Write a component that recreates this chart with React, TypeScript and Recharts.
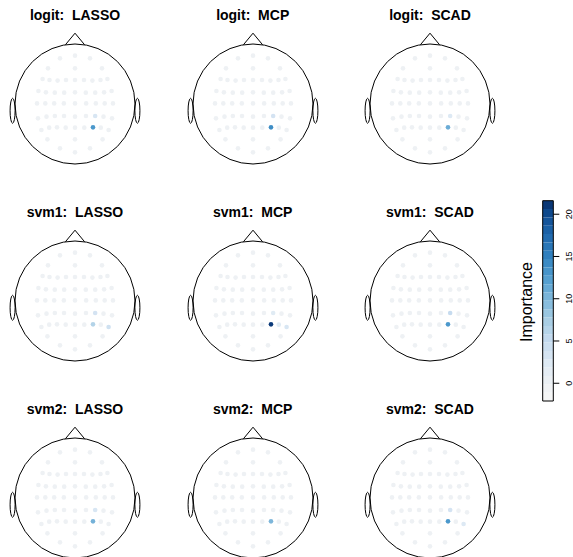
import React from 'react';
import { ScatterChart, Scatter, XAxis, YAxis, ReferenceArea, ComposedChart } from 'recharts';

// ---------- electrode layout (normalised head coordinates, y downward) ----------
const electrodeNames = [
  'Fpz', 'Fp1', 'Fp2',
  'AF7', 'AFz', 'AF8',
  'F7', 'F5', 'F3', 'F1', 'Fz', 'F2', 'F4', 'F6', 'F8',
  'FT7', 'FC5', 'FC3', 'FC1', 'FCz', 'FC2', 'FC4', 'FC6', 'FT8',
  'T7', 'C5', 'C3', 'C1', 'Cz', 'C2', 'C4', 'C6', 'T8',
  'TP7', 'CP5', 'CP3', 'CP1', 'CPz', 'CP2', 'CP4', 'CP6', 'TP8',
  'P7', 'P5', 'P3', 'P1', 'Pz', 'P2', 'P4', 'P6', 'P8',
  'PO7', 'POz', 'PO8',
  'O1', 'Oz', 'O2',
];
const electrodeX = [
  0, -0.25, 0.25,
  -0.45, 0, 0.45,
  -0.54, -0.425, -0.29, -0.15, 0, 0.15, 0.29, 0.425, 0.54,
  -0.61, -0.485, -0.337, -0.18, 0, 0.18, 0.337, 0.485, 0.61,
  -0.633, -0.495, -0.347, -0.186, 0, 0.186, 0.347, 0.495, 0.633,
  -0.617, -0.475, -0.336, -0.183, 0, 0.183, 0.336, 0.475, 0.617,
  -0.56, -0.43, -0.3, -0.155, 0, 0.155, 0.3, 0.43, 0.56,
  -0.46, 0, 0.46,
  -0.25, 0, 0.25,
];
const electrodeY = [
  -0.806, -0.761, -0.761,
  -0.594, -0.594, -0.594,
  -0.417, -0.4, -0.39, -0.4, -0.4, -0.4, -0.39, -0.4, -0.417,
  -0.217, -0.194, -0.189, -0.189, -0.194, -0.189, -0.189, -0.194, -0.217,
  -0.01, -0.01, -0.01, -0.01, -0.01, -0.01, -0.01, -0.01, -0.01,
  0.239, 0.211, 0.2, 0.2, 0.211, 0.2, 0.2, 0.211, 0.239,
  0.433, 0.394, 0.389, 0.394, 0.394, 0.394, 0.389, 0.394, 0.433,
  0.589, 0.589, 0.589,
  0.739, 0.806, 0.739,
];

// ---------- importance values (non-listed electrodes are 0) ----------
const models = ['logit', 'svm1', 'svm2'];
const penalties = ['LASSO', 'MCP', 'SCAD'];

const logitLASSO: Record<string, number> = { CP4: 3, P4: 13 };
const logitMCP: Record<string, number> = { CP4: 3.5, P4: 14 };
const logitSCAD: Record<string, number> = { CP4: 2.5, P4: 11 };
const svm1LASSO: Record<string, number> = { CP4: 3.5, P4: 6.5, P8: 4 };
const svm1MCP: Record<string, number> = { CP4: 2, P4: 21, P6: 2, P8: 3 };
const svm1SCAD: Record<string, number> = { CP4: 5, P4: 13 };
const svm2LASSO: Record<string, number> = { CP4: 3, P4: 10.5 };
const svm2MCP: Record<string, number> = { P4: 10 };
const svm2SCAD: Record<string, number> = { CP4: 3.5, P4: 13, P8: 2.5 };

const panelValues = [
  [logitLASSO, logitMCP, logitSCAD],
  [svm1LASSO, svm1MCP, svm1SCAD],
  [svm2LASSO, svm2MCP, svm2SCAD],
];

const colorbarTicks = [0, 5, 10, 15, 20];
const colorbarMin = -2.1;
const colorbarMax = 21.6;

// ---------- colour scale ----------
const colorStops: [number, string][] = [
  [-2.1, '#f7f7f7'],
  [0, '#eef1f4'],
  [2.5, '#dde9f4'],
  [5, '#c6dbef'],
  [7.5, '#a6cde3'],
  [10, '#7db6da'],
  [12.5, '#519dcf'],
  [15, '#3282bf'],
  [17.5, '#1f68ae'],
  [20, '#0f4b8f'],
  [21.6, '#08306b'],
];
function hexToRgb(h: string) {
  return [parseInt(h.slice(1, 3), 16), parseInt(h.slice(3, 5), 16), parseInt(h.slice(5, 7), 16)];
}
function colorFor(v: number): string {
  if (v <= colorStops[0][0]) return colorStops[0][1];
  for (let i = 1; i < colorStops.length; i++) {
    const [v1, c1] = colorStops[i];
    const [v0, c0] = colorStops[i - 1];
    if (v <= v1) {
      const t = (v - v0) / (v1 - v0);
      const a = hexToRgb(c0);
      const b = hexToRgb(c1);
      const m = a.map((x, k) => Math.round(x + (b[k] - x) * t));
      return `rgb(${m[0]},${m[1]},${m[2]})`;
    }
  }
  return colorStops[colorStops.length - 1][1];
}

const FONT = '"Liberation Sans", Arial, Helvetica, sans-serif';

// ---------- layout ----------
const PANEL_W = 180;
const PANEL_H = 197;
const colCenters = [75, 252.7, 430];
const HEAD_CY = 104;
const UNIT = 60;

function HeadShape(props: any) {
  const { x, y, width, height } = props;
  const w = Math.abs(width);
  const h = Math.abs(height);
  const left = Math.min(x, x + width);
  const top = Math.min(y, y + height);
  const cx = left + w / 2;
  const cy = top + h / 2;
  const s = w / 2;
  const nb = Math.sqrt(1 - 0.16 * 0.16);
  return (
    <g fill="none" stroke="#000" strokeWidth={1}>
      <circle cx={cx} cy={cy} r={s} />
      <polyline
        points={`${cx - 0.16 * s},${cy - nb * s} ${cx},${cy - 1.18 * s} ${cx + 0.16 * s},${cy - nb * s}`}
      />
      <ellipse cx={cx - 1.04 * s} cy={cy + 0.113 * s} rx={0.042 * s} ry={0.208 * s} />
      <ellipse cx={cx + 1.04 * s} cy={cy + 0.113 * s} rx={0.042 * s} ry={0.208 * s} />
    </g>
  );
}

function Dot(props: any) {
  const { cx, cy, payload } = props;
  return <circle cx={cx} cy={cy} r={2.3} fill={payload.fill} />;
}

function Panel({ row, col }: { row: number; col: number }) {
  const vals = panelValues[row][col];
  const data = electrodeNames.map((name, i) => {
    const v = vals[name] ?? 0;
    return { name, x: electrodeX[i], y: electrodeY[i], v, fill: colorFor(v) };
  });
  const left = colCenters[col] - PANEL_W / 2;
  const top = row * PANEL_H;
  return (
    <div style={{ position: 'absolute', left, top, width: PANEL_W, height: PANEL_H }}>
      <ScatterChart width={PANEL_W} height={PANEL_H} margin={{ top: 0, right: 0, bottom: 0, left: 0 }}>
        <XAxis
          type="number"
          dataKey="x"
          domain={[-PANEL_W / 2 / UNIT, PANEL_W / 2 / UNIT]}
          allowDataOverflow
          hide
        />
        <YAxis
          type="number"
          dataKey="y"
          domain={[-HEAD_CY / UNIT, (PANEL_H - HEAD_CY) / UNIT]}
          allowDataOverflow
          reversed
          hide
        />
        <ReferenceArea x1={-1} x2={1} y1={-1} y2={1} shape={HeadShape} ifOverflow="visible" />
        <Scatter data={data} shape={Dot} isAnimationActive={false} />
      </ScatterChart>
      <div
        style={{
          position: 'absolute',
          left: 0,
          top: 7.6,
          width: PANEL_W,
          textAlign: 'center',
          fontFamily: FONT,
          fontWeight: 'bold',
          fontSize: 14,
          lineHeight: '14px',
          whiteSpace: 'pre',
          color: '#000',
        }}
      >
        {`${models[row]}:  ${penalties[col]}`}
      </div>
    </div>
  );
}

function ColorbarTick(props: any) {
  const { x, y, payload } = props;
  const bx = x + 11;
  return (
    <text
      x={bx}
      y={y}
      transform={`rotate(-90, ${bx}, ${y})`}
      textAnchor="middle"
      fontSize={9}
      fontFamily={FONT}
      fill="#000"
    >
      {payload.value}
    </text>
  );
}

function Colorbar() {
  const n = 24;
  const step = (colorbarMax - colorbarMin) / n;
  const bands = Array.from({ length: n }, (_, i) => {
    const lo = colorbarMin + i * step;
    const hi = lo + step;
    return { lo, hi, fill: colorFor((lo + hi) / 2) };
  });
  return (
    <div style={{ position: 'absolute', left: 500, top: 180, width: 73, height: 240 }}>
      <ComposedChart width={73} height={240} data={bands} margin={{ top: 20.7, right: 0, bottom: 19, left: 42.7 }}>
        <XAxis type="number" dataKey="lo" domain={[0, 1]} allowDataOverflow hide />
        <YAxis
          type="number"
          orientation="right"
          domain={[colorbarMin, colorbarMax]}
          allowDataOverflow
          ticks={colorbarTicks}
          interval={0}
          width={19.7}
          axisLine={false}
          tickSize={6}
          tickLine={{ stroke: '#000' }}
          tick={ColorbarTick}
        />
        {bands.map((b, i) => (
          <ReferenceArea key={i} x1={0} x2={1} y1={b.lo} y2={b.hi} fill={b.fill} fillOpacity={1} stroke="none" />
        ))}
        <ReferenceArea x1={0} x2={1} y1={colorbarMin} y2={colorbarMax} fill="none" stroke="#000" strokeWidth={1} />
      </ComposedChart>
      <div
        style={{
          position: 'absolute',
          left: 27 - 60,
          top: 122 - 10,
          width: 120,
          height: 20,
          lineHeight: '20px',
          textAlign: 'center',
          fontFamily: FONT,
          fontSize: 16,
          transform: 'rotate(-90deg)',
          color: '#000',
        }}
      >
        Importance
      </div>
    </div>
  );
}

export default function App() {
  return (
    <div
      style={{
        position: 'fixed',
        left: 0,
        top: 0,
        width: 573,
        height: 557,
        overflow: 'hidden',
        background: '#fff',
      }}
    >
      {[0, 1, 2].map((r) => [0, 1, 2].map((c) => <Panel key={`${r}-${c}`} row={r} col={c} />))}
      <Colorbar />
    </div>
  );
}
